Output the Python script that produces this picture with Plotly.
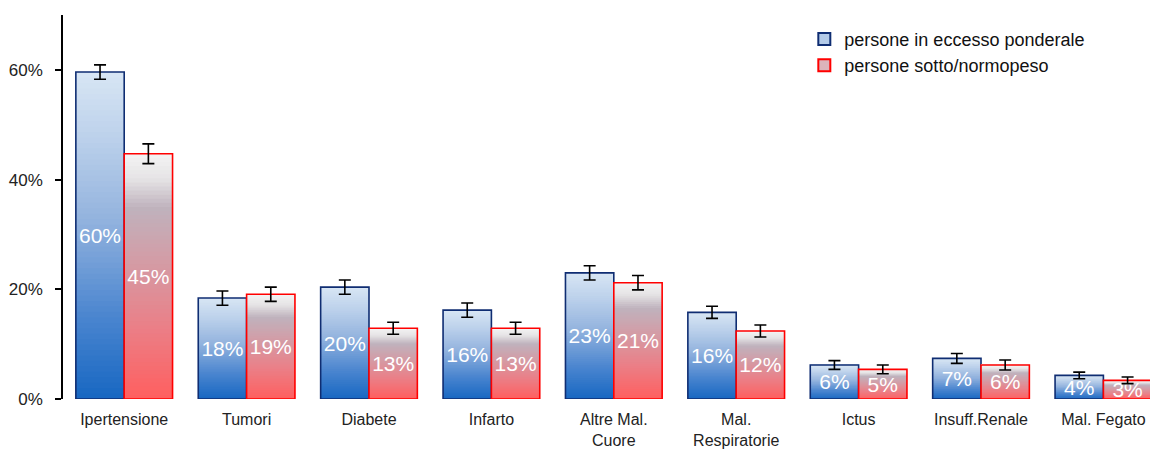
import plotly.graph_objects as go
from plotly.colors import sample_colorscale

categories = ["Ipertensione", "Tumori", "Diabete", "Infarto", "Altre Mal.<br>Cuore",
              "Mal.<br>Respiratorie", "Ictus", "Insuff.Renale", "Mal. Fegato"]
sovrappeso = [0.596, 0.184, 0.204, 0.162, 0.230, 0.158, 0.062, 0.074, 0.043]
sovrappeso_err = [0.013, 0.013, 0.013, 0.013, 0.013, 0.011, 0.008, 0.009, 0.006]
normopeso = [0.447, 0.191, 0.129, 0.129, 0.212, 0.124, 0.054, 0.062, 0.034]
normopeso_err = [0.018, 0.013, 0.011, 0.011, 0.013, 0.011, 0.008, 0.009, 0.006]
names = ["persone in eccesso ponderale", "persone sotto/normopeso"]

# colour ramps, bottom of bar -> top of bar
blue_ramp = [[0.0, "#1767c2"], [0.25, "#4a85cf"], [0.55, "#93b3de"], [0.8, "#bcd1eb"], [1.0, "#d8e6f4"]]
red_ramp = [[0.0, "#ff5f5f"], [0.3, "#ea8088"], [0.6, "#d0a0aa"], [0.78, "#bfb2bd"], [0.9, "#e6e4e6"], [1.0, "#f3f3f3"]]

N = 60
FONT = "Liberation Sans, Arial, sans-serif"

fig = go.Figure()

series = [
    ("A", sovrappeso, sovrappeso_err, blue_ramp, "#0f2d72", "#b4cbe8", names[0]),
    ("B", normopeso, normopeso_err, red_ramp, "#ff0000", "#dcb4bb", names[1]),
]

for group, vals, errs, ramp, edge, swatch, name in series:
    cols = sample_colorscale(ramp, [(i + 0.5) / N for i in range(N)])
    for i in range(N):
        # each slice overlaps the next one a little so no seams show
        base = [v * i / N for v in vals]
        top = [min(v * (i + 1.8) / N, v) for v in vals]
        fig.add_trace(go.Bar(
            x=categories, y=[t - b for t, b in zip(top, base)], base=base,
            offsetgroup=group, marker=dict(color=cols[i], line=dict(width=0)),
            showlegend=False, hoverinfo="skip"))
    # outline, error bars and labels
    fig.add_trace(go.Bar(
        x=categories, y=vals, offsetgroup=group,
        marker=dict(color="rgba(0,0,0,0)", line=dict(color=edge, width=1.6)),
        error_y=dict(type="data", array=errs, color="black", thickness=1.6, width=6),
        texttemplate="%{y:.0%}", textposition="inside", insidetextanchor="middle",
        textangle=0, constraintext="none",
        textfont=dict(color="white", size=21, family=FONT),
        showlegend=False, hoverinfo="skip"))
    # legend swatch
    fig.add_trace(go.Bar(
        x=[None], y=[None], offsetgroup=group, name=name,
        marker=dict(color=swatch, line=dict(color=edge, width=2))))

# page body has an 8px margin, so the figure is a bit smaller than the window
fig.update_layout(
    width=1150, height=444,
    barmode="group", bargap=0.21, bargroupgap=0,
    plot_bgcolor="white", paper_bgcolor="white",
    margin=dict(l=55, r=0, t=7, b=53),
    font=dict(family=FONT, size=17, color="#222"),
    legend=dict(x=0.677, y=0.985, xanchor="left", yanchor="top",
                font=dict(size=18, color="#111"), bgcolor="rgba(0,0,0,0)",
                itemwidth=30, tracegroupgap=0),
    showlegend=True,
)
fig.update_xaxes(range=[-0.5, 8.446], showline=False, ticks="outside", ticklen=6,
                 tickcolor="rgba(0,0,0,0)", showgrid=False, automargin=False,
                 tickfont=dict(size=16, color="#222"))
fig.update_yaxes(range=[0, 0.70], tickvals=[0, 0.2, 0.4, 0.6], tickformat=".0%",
                 showline=True, linecolor="black", linewidth=1.5, ticks="outside",
                 ticklen=6, tickcolor="black", tickwidth=1.5, showgrid=False,
                 ticklabelstandoff=9, zeroline=False, automargin=False,
                 tickfont=dict(size=17, color="#222"))

fig.write_html("out.html")
